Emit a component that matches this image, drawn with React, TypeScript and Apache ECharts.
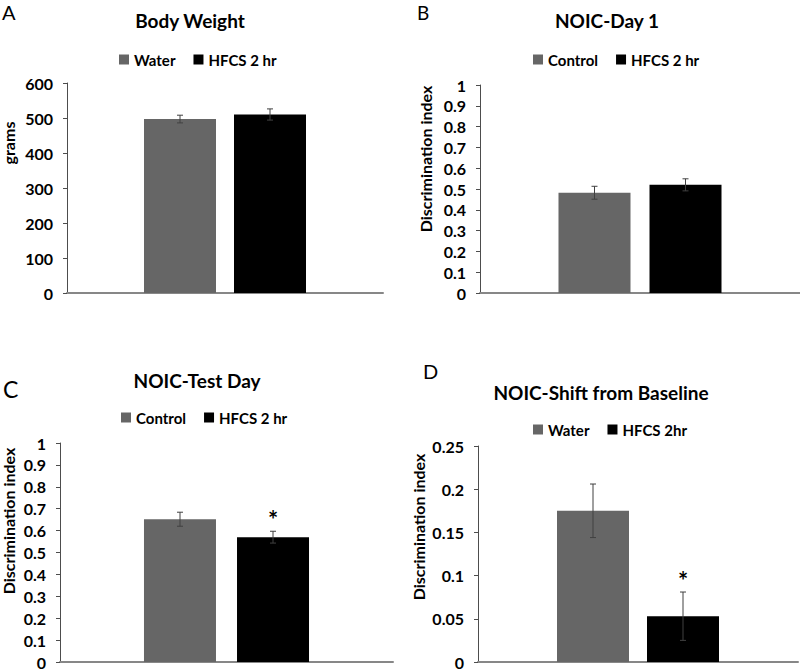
import React, { useEffect, useRef } from "react";
import * as echarts from "echarts";

// ---- data ----
const panelLetters = ["A", "B", "C", "D"];
const panelTitles = ["Body Weight", "NOIC-Day 1", "NOIC-Test Day", "NOIC-Shift from Baseline"];
const groupNamesA = ["Water", "HFCS 2 hr"];
const groupNamesB = ["Control", "HFCS 2 hr"];
const groupNamesC = ["Control", "HFCS 2 hr"];
const groupNamesD = ["Water", "HFCS 2hr"];
const valuesA = [497, 510];
const errorsA = [11, 16];
const valuesB = [0.482, 0.52];
const errorsB = [0.031, 0.029];
const valuesC = [0.652, 0.57];
const errorsC = [0.032, 0.027];
const valuesD = [0.175, 0.053];
const errorsD = [0.031, 0.028];
const significantA = [false, false];
const significantB = [false, false];
const significantC = [false, true];
const significantD = [false, true];
const yAxisNames = ["grams", "Discrimination index", "Discrimination index", "Discrimination index"];
const yMax = [600, 1, 1, 0.25];
const yInterval = [100, 0.1, 0.1, 0.05];

const FONT = "Lato, 'Noto Sans', sans-serif";
const GRAY = "#666666";
const BLACK = "#000000";

export default function App() {
  const ref = useRef<HTMLDivElement>(null);
  useEffect(() => {
    if (!ref.current) return;
    const chart = echarts.init(ref.current, undefined, { renderer: "svg" });

    const panels = [
      { names: groupNamesA, values: valuesA, errors: errorsA, sig: significantA,
        grid: { left: 67, top: 83, width: 316, height: 210 }, gap: 18,
        legend: { left: 114, top: 47 }, title: [190, 20], letter: [2, 12, 20], yName: [8, 143] },
      { names: groupNamesB, values: valuesB, errors: errorsB, sig: significantB,
        grid: { left: 480, top: 85, width: 320, height: 208 }, gap: 19,
        legend: { left: 528, top: 47 }, title: [607, 20], letter: [417, 12, 19], yName: [425, 159] },
      { names: groupNamesC, values: valuesC, errors: errorsC, sig: significantC,
        grid: { left: 60, top: 443, width: 333, height: 220 }, gap: 21,
        legend: { left: 116, top: 405 }, title: [197, 380], letter: [3, 389, 23], yName: [8, 521] },
      { names: groupNamesD, values: valuesD, errors: errorsD, sig: significantD,
        grid: { left: 478, top: 446, width: 320, height: 217 }, gap: 18,
        legend: { left: 528, top: 417 }, title: [601, 392], letter: [423, 371, 20], yName: [418, 527] },
    ];
    const BAR_W = 72;

    const grids: any[] = [];
    const xAxes: any[] = [];
    const yAxes: any[] = [];
    const series: any[] = [];
    const legends: any[] = [];
    const graphics: any[] = [];

    panels.forEach((p, i) => {
      grids.push({ ...p.grid, containLabel: false });
      xAxes.push({
        type: "category", gridIndex: i, data: [""],
        axisLine: { lineStyle: { color: "#878787", width: 2 } },
        axisTick: { show: false }, axisLabel: { show: false },
      });
      yAxes.push({
        type: "value", gridIndex: i, min: 0, max: yMax[i], interval: yInterval[i],
        axisLine: { show: true, lineStyle: { color: "#4d4d4d", width: 1 } },
        axisTick: { show: true, length: 4, lineStyle: { color: "#4d4d4d" } },
        splitLine: { show: false },
        axisLabel: { color: "#000", fontWeight: "bold", fontSize: 16, fontFamily: FONT, margin: 14 },
      });
      const colors = [GRAY, BLACK];
      p.names.forEach((n, k) => {
        series.push({
          type: "bar", name: n, xAxisIndex: i, yAxisIndex: i,
          data: [p.values[k]], barWidth: BAR_W, barGap: (p.gap / BAR_W * 100).toFixed(1) + "%",
          itemStyle: { color: colors[k] },
        });
      });
      const off = (BAR_W + p.gap) / 2;
      series.push({
        type: "custom", xAxisIndex: i, yAxisIndex: i, z: 10,
        data: p.values.map((v, k) => [0, v, p.errors[k], k, p.sig[k] ? 1 : 0]),
        encode: { x: 0, y: 1 },
        renderItem: (params: any, api: any) => {
          const v = api.value(1), e = api.value(2), k = api.value(3), s = api.value(4);
          const cx = api.coord([0, v])[0] + (k === 0 ? -off : off);
          const top = api.coord([0, v + e])[1];
          const bot = api.coord([0, v - e])[1];
          const ls = { stroke: "#404040", lineWidth: 1 };
          const children: any[] = [
            { type: "line", shape: { x1: cx, y1: top, x2: cx, y2: bot }, style: ls },
            { type: "line", shape: { x1: cx - 3, y1: top, x2: cx + 3, y2: top }, style: ls },
            { type: "line", shape: { x1: cx - 3, y1: bot, x2: cx + 3, y2: bot }, style: ls },
          ];
          if (s) {
            children.push({
              type: "text", x: cx, y: top,
              style: { text: "*", fill: "#000", font: `bold 24px ${FONT}`, align: "center", verticalAlign: "bottom" },
            });
          }
          return { type: "group", children };
        },
      });
      legends.push({
        left: p.legend.left, top: p.legend.top, data: p.names, icon: "rect",
        itemWidth: 10, itemHeight: 10, itemGap: 18, selectedMode: false,
        textStyle: { fontSize: 15, fontWeight: "bold", color: "#000", fontFamily: FONT },
      });
      graphics.push({
        type: "text", x: p.title[0], y: p.title[1],
        style: { text: panelTitles[i], font: `bold 19px ${FONT}`, fill: "#000", align: "center", verticalAlign: "middle" },
      });
      graphics.push({
        type: "text", x: p.letter[0], y: p.letter[1],
        style: { text: panelLetters[i], font: `${p.letter[2]}px ${FONT}`, fill: "#000", align: "left", verticalAlign: "middle" },
      });
      graphics.push({
        type: "text", x: p.yName[0], y: p.yName[1], rotation: Math.PI / 2,
        style: { text: yAxisNames[i], font: `bold 16px ${FONT}`, fill: "#000", align: "center", verticalAlign: "middle" },
      });
    });

    chart.setOption({
      animation: false,
      backgroundColor: "#ffffff",
      grid: grids, xAxis: xAxes, yAxis: yAxes, series, legend: legends, graphic: graphics,
    });
    return () => chart.dispose();
  }, []);
  return <div ref={ref} style={{ position: "fixed", left: 0, top: 0, width: 800, height: 670 }} />;
}
